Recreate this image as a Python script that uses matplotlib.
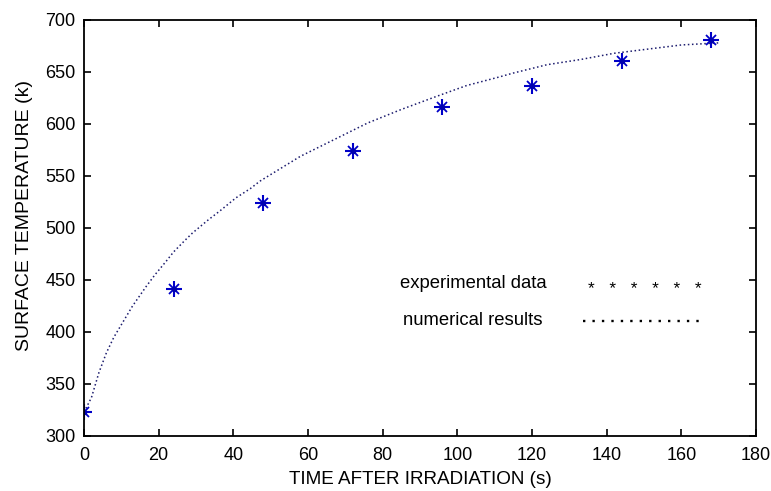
import matplotlib
matplotlib.use("Agg")
import matplotlib.pyplot as plt

# experimental data
exp_t = [0, 24, 48, 72, 96, 120, 144, 168]
exp_T = [323, 441, 524, 574, 616, 637, 661, 681]

# numerical results
num_t = [0, 2, 4, 6, 8, 10, 13, 16.7, 19, 22, 24, 27, 29, 33, 36.6, 40.7, 44.6,
         47.1, 58, 67, 76, 85, 94, 102.5, 111, 115, 124, 133, 142, 151, 160, 170]
num_T = [323, 337, 361, 380, 395, 407, 425, 444, 455, 468, 477, 488, 495, 507, 517,
         529, 538, 545, 569, 585, 601, 614, 626, 637, 645, 649, 657, 662, 668, 672,
         676, 678]

x_ticks = [0, 20, 40, 60, 80, 100, 120, 140, 160, 180]
y_ticks = [300, 350, 400, 450, 500, 550, 600, 650, 700]

plt.rcParams['font.family'] = ['Liberation Sans', 'DejaVu Sans']

fig = plt.figure(figsize=(7.71, 4.91), dpi=100)
ax = fig.add_axes([84/771, 55/491, 672/771, 416/491])

ax.plot(num_t, num_T, linestyle=(0, (1, 1.7)), color='#1c1c6e', linewidth=1.1)
ax.plot(exp_t, exp_T, linestyle='none', marker='+', ms=12, mew=1.5, color='#0000c8')
ax.plot(exp_t, exp_T, linestyle='none', marker='x', ms=7, mew=1.3, color='#0000c8')
ax.plot(exp_t, exp_T, linestyle='none', marker='o', ms=4, mew=0, color='#0000b0')

# in-axes key
ax.text(84.6, 447, 'experimental data', fontsize=13.3, va='center', ha='left')
ax.text(85.5, 410.6, 'numerical results', fontsize=13.3, va='center', ha='left')
ax.text(134.9, 441, '*   *   *   *   *   *', fontsize=12.5, va='center', ha='left')
ax.plot([133.6, 165], [411, 411], linestyle=(0, (1, 3)), color='black', linewidth=1.7)

ax.set_xlim(0, 180)
ax.set_ylim(300, 700)
ax.set_xticks(x_ticks)
ax.set_yticks(y_ticks)
ax.tick_params(direction='in', length=5, width=1.2, top=True, right=True,
               labelsize=13)
ax.tick_params(axis='x', pad=8)
ax.tick_params(axis='y', pad=6)
for s in ax.spines.values():
    s.set_linewidth(1.3)

ax.set_xlabel('TIME AFTER IRRADIATION (s)', fontsize=13.6, labelpad=5)
ax.set_ylabel('SURFACE TEMPERATURE (k)', fontsize=14)
ax.yaxis.set_label_coords(-0.076, 0.529)

fig.savefig('out.png', dpi=100)
